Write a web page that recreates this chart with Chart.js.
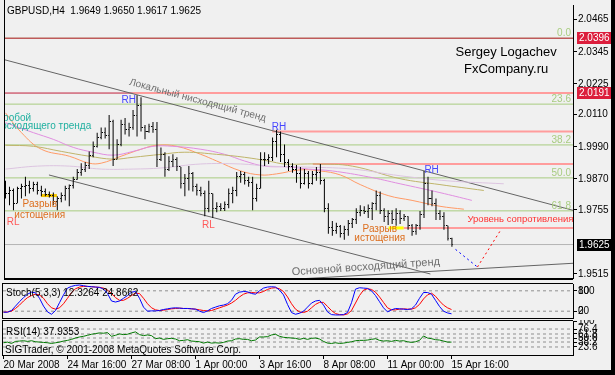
<!DOCTYPE html>
<html>
<head>
<meta charset="utf-8">
<title>GBPUSD,H4</title>
<script src="https://cdn.jsdelivr.net/npm/chart.js@4.4.1/dist/chart.umd.min.js"></script>
<style>
  html, body { margin: 0; padding: 0; background: #f0f0f0; }
  #wrap { position: relative; width: 615px; height: 375px; overflow: hidden; background: #f0f0f0; }
  #wrap canvas { position: absolute; left: 0; }
  #main { top: 0; }
  #stoch { top: 283px; }
  #rsi { top: 320px; }
  #edgeR { position: absolute; right: 0; top: 0; width: 4px; height: 375px; background: #000; }
  #edgeB { position: absolute; left: 0; bottom: 0; width: 615px; height: 5px; background: #000; }
</style>
</head>
<body>
<div id="wrap">
  <canvas id="main" width="615" height="283"></canvas>
  <canvas id="stoch" width="615" height="37"></canvas>
  <canvas id="rsi" width="615" height="55"></canvas>
  <div id="edgeR"></div>
  <div id="edgeB"></div>
</div>
<script>
// GBPUSD H4 - wartosci

const timeLabels = ['20 Mar 2008', '24 Mar 16:00', '27 Mar 08:00', '1 Apr 00:00', '3 Apr 16:00', '8 Apr 08:00', '11 Apr 00:00', '15 Apr 16:00'];
const timeTicks = [0, 16, 32, 48, 64, 80, 96, 112];
const priceTicks = [2.0465, 2.0345, 2.0225, 2.0110, 1.9990, 1.9870, 1.9755, 1.9515];

const opens = [1.9849,1.9816,1.9827,1.9779,1.9834,1.9841,1.9845,1.9834,1.9849,1.9827,
  1.9823,1.9812,1.9808,1.9786,1.9797,1.9808,1.9834,1.9845,1.9867,1.9893,
  1.9907,1.9922,1.9959,1.9992,2.0025,2.0043,2.0032,2.0083,1.9944,1.9999,
  2.0072,2.0054,2.0062,2.0109,2.0146,2.0062,2.0047,2.0065,2.0054,1.9944,
  1.9962,1.9907,1.9937,1.9944,1.9915,1.9852,1.9871,1.9889,1.9841,1.9827,
  1.9816,1.9761,1.9816,1.9761,1.9768,1.9761,1.9775,1.9816,1.9827,1.9878,
  1.9885,1.9863,1.9856,1.9797,1.9834,1.9944,1.9944,1.9951,2.0010,2.0036,
  1.9962,1.9933,1.9918,1.9907,1.9889,1.9852,1.9889,1.9852,1.9885,1.9893,
  1.9863,1.9761,1.9687,1.9676,1.9691,1.9665,1.9680,1.9702,1.9717,1.9746,
  1.9753,1.9750,1.9761,1.9779,1.9808,1.9753,1.9731,1.9742,1.9717,1.9742,
  1.9724,1.9728,1.9695,1.9673,1.9695,1.9739,1.9852,1.9797,1.9779,1.9742,
  1.9731,1.9695,1.9649];
const highs = [1.9863,1.9841,1.9834,1.9841,1.9852,1.9878,1.9863,1.9860,1.9860,1.9845,
  1.9834,1.9823,1.9819,1.9805,1.9819,1.9845,1.9849,1.9878,1.9907,1.9929,
  1.9933,1.9973,2.0010,2.0043,2.0062,2.0062,2.0109,2.0091,2.0018,2.0091,
  2.0098,2.0080,2.0128,2.0183,2.0175,2.0072,2.0076,2.0083,2.0083,1.9988,
  1.9970,1.9955,1.9962,1.9951,1.9915,1.9889,1.9918,1.9896,1.9852,1.9841,
  1.9827,1.9863,1.9816,1.9783,1.9779,1.9786,1.9834,1.9841,1.9896,1.9900,
  1.9896,1.9878,1.9878,1.9852,1.9970,1.9970,1.9962,2.0025,2.0054,2.0047,
  1.9999,1.9944,1.9929,1.9922,1.9915,1.9907,1.9900,1.9900,1.9915,1.9926,
  1.9871,1.9779,1.9713,1.9706,1.9698,1.9695,1.9717,1.9724,1.9761,1.9772,
  1.9768,1.9775,1.9783,1.9827,1.9823,1.9761,1.9753,1.9753,1.9761,1.9753,
  1.9739,1.9731,1.9702,1.9702,1.9750,1.9900,1.9878,1.9827,1.9797,1.9753,
  1.9746,1.9695,1.9650];
const lows = [1.9797,1.9772,1.9753,1.9779,1.9797,1.9805,1.9816,1.9823,1.9812,1.9805,
  1.9805,1.9801,1.9772,1.9753,1.9783,1.9790,1.9768,1.9834,1.9867,1.9882,
  1.9896,1.9907,1.9951,1.9988,2.0018,2.0021,1.9981,1.9918,1.9944,1.9992,
  2.0036,2.0029,2.0054,2.0029,2.0047,2.0018,2.0043,2.0043,1.9915,1.9937,
  1.9878,1.9900,1.9915,1.9900,1.9834,1.9805,1.9827,1.9823,1.9808,1.9805,
  1.9731,1.9746,1.9724,1.9746,1.9750,1.9750,1.9761,1.9779,1.9805,1.9856,
  1.9849,1.9841,1.9753,1.9786,1.9834,1.9918,1.9926,1.9937,1.9951,1.9933,
  1.9915,1.9900,1.9893,1.9856,1.9834,1.9849,1.9834,1.9849,1.9863,1.9849,
  1.9746,1.9665,1.9658,1.9665,1.9651,1.9643,1.9658,1.9687,1.9702,1.9731,
  1.9739,1.9724,1.9717,1.9753,1.9739,1.9709,1.9698,1.9702,1.9695,1.9702,
  1.9713,1.9680,1.9658,1.9662,1.9680,1.9724,1.9772,1.9768,1.9717,1.9717,
  1.9680,1.9640,1.9617];
const closes = [1.9816,1.9827,1.9779,1.9834,1.9841,1.9845,1.9834,1.9849,1.9827,1.9823,
  1.9812,1.9808,1.9786,1.9797,1.9808,1.9834,1.9845,1.9867,1.9893,1.9907,
  1.9922,1.9959,1.9992,2.0025,2.0043,2.0032,2.0083,1.9944,1.9999,2.0072,
  2.0054,2.0062,2.0109,2.0146,2.0062,2.0047,2.0065,2.0054,1.9944,1.9962,
  1.9907,1.9937,1.9944,1.9915,1.9852,1.9871,1.9889,1.9841,1.9827,1.9816,
  1.9761,1.9816,1.9761,1.9768,1.9761,1.9775,1.9816,1.9827,1.9878,1.9885,
  1.9863,1.9856,1.9797,1.9834,1.9944,1.9944,1.9951,2.0010,2.0036,1.9962,
  1.9933,1.9918,1.9907,1.9889,1.9852,1.9889,1.9852,1.9885,1.9893,1.9863,
  1.9761,1.9687,1.9676,1.9691,1.9665,1.9680,1.9702,1.9717,1.9746,1.9753,
  1.9750,1.9761,1.9779,1.9808,1.9753,1.9731,1.9742,1.9717,1.9742,1.9724,
  1.9728,1.9695,1.9673,1.9695,1.9739,1.9852,1.9797,1.9779,1.9742,1.9731,
  1.9695,1.9647,1.9625];

// srednie kroczace (punkty odczytane co kilka swiec)
const maFastIdx = [0,4,9,16,21,24,29,34,38,43,49,53,59,64,68,74,79,84,89,96,102,109,115];
const maFast = [2.0117,2.0043,1.9981,1.9955,1.9929,1.9929,1.9955,1.9981,1.9996,1.9992,1.9962,1.9937,1.9900,1.9885,1.9889,1.9904,1.9900,1.9885,1.9849,1.9808,1.9790,1.9768,1.9757];
const maMidIdx = [0,7,12,17,22,27,32,37,42,49,55,60,65,71,76,82,91,99,109,117];
const maMid = [2.0080,2.0043,2.0018,1.9988,1.9970,1.9959,1.9973,1.9992,1.9992,1.9981,1.9962,1.9937,1.9918,1.9915,1.9907,1.9900,1.9878,1.9852,1.9819,1.9790];
const maSlowIdx = [0,7,14,21,27,32,39,45,53,60,66,70,78,87,99,109,120];
const maSlow = [1.9996,1.9992,1.9973,1.9955,1.9944,1.9951,1.9962,1.9970,1.9962,1.9951,1.9937,1.9926,1.9926,1.9918,1.9871,1.9849,1.9827];
const maLongIdx = [0,8,16,24,32,39,49,59,66,74,87,99,111,125];
const maLong = [1.9907,1.9918,1.9918,1.9907,1.9907,1.9911,1.9926,1.9926,1.9918,1.9915,1.9907,1.9882,1.9863,1.9852];

const stochK = [17,17,22,35,48,60,70,76,74,58,
  35,18,11,22,45,68,88,93,96,97,
  95,93,92,91,90,85,72,50,47,50,
  58,66,76,78,58,32,20,21,21,22,
  25,27,29,30,29,28,28,27,26,20,
  16,21,28,32,36,38,42,52,70,76,
  78,77,72,70,80,88,91,92,91,82,
  68,40,16,11,14,20,32,44,50,52,
  38,18,10,9,9,10,16,45,85,89,
  88,87,80,66,48,30,18,24,28,27,
  26,25,27,38,58,75,75,70,52,34,
  20,15,12.3264];
const stochD = [17,18,20,28,38,50,60,66,70,68,
  58,42,30,26,30,42,58,75,86,91,
  93,93,92,91,90,88,82,72,60,52,
  52,58,66,73,72,58,42,30,24,22,
  23,25,27,28,29,28,28,27,26,24,
  22,21,22,26,30,34,38,44,52,62,
  70,74,75,74,74,78,84,88,89,86,
  78,62,42,26,18,16,20,30,40,46,
  46,34,22,13,10,9,12,22,44,66,
  82,86,84,76,62,46,30,24,24,26,
  27,26,26,30,40,56,68,73,64,50,
  38,30,24.8662];
const rsi = [36,38,34,40,41,42,40,42,39,38,
  37,36,34,36,38,41,43,46,50,53,
  55,58,61,63,65,64,66,55,58,62,
  60,61,65,68,60,57,59,57,48,50,
  46,48,49,47,42,43,45,41,40,39,
  35,38,35,36,35,37,41,42,47,48,
  46,46,42,44,53,53,54,59,61,55,
  52,51,50,49,46,49,46,49,50,47,
  40,35,34,36,34,35,37,39,42,43,
  43,44,46,48,43,41,42,40,43,41,
  42,39,37,39,43,56,50,48,45,44,
  41,38,37.9353];

// poziomy
const fiboHigh = 2.0396, fiboLow = 1.9352;
const fiboLevels = [0, 23.6, 38.2, 50, 61.8];
const redLevels = [2.0396, 2.0191];
const resistPrices = [2.0191, 2.0047, 1.9926, 1.9687];
const resistFrom = [31.9, 66.9, 77.1, 99.9];
const gapFrom = [8.9, 96.1], gapTo = [12.9, 99.9], gapPrice = [1.9808, 1.9687];
const trendLocal = { i: [-0.125, 142.375], p: [2.0315, 1.9753] };
const trendChannel = { i: [10.9, 106.6], p: [1.9885, 1.9515] };
const trendMain = { i: [74.1, 142.375], p: [1.9497, 1.9555] };
const forecastDown = { i: [112.9, 118.4], p: [1.9607, 1.9541] };
const forecastUp = { i: [118.4, 124.1], p: [1.9541, 1.9676] };
const stochLevels = [20, 80];
const rsiLevels = [23.6, 38.2, 50, 61.8, 76.4];

const X_MIN = -0.125, X_MAX = 142.375;
const last = closes.length - 1;

Chart.defaults.font.family = "'Liberation Sans', Arial, sans-serif";
Chart.defaults.font.size = 10;
Chart.defaults.color = '#000';

function pts(xs, ys) { return xs.map((x, k) => ({ x: x, y: ys[k] })); }
function seg(x0, x1, p) { return [{ x: x0, y: p }, { x: x1, y: p }]; }
function line(data, color, extra) {
  return Object.assign({ type: 'line', data: data, borderColor: color, borderWidth: 1,
    pointRadius: 0, tension: 0, fill: false, order: 9 }, extra || {});
}

// kreski open / close
function tickImage(left) {
  const c = document.createElement('canvas');
  c.width = 3; c.height = 1;
  const g = c.getContext('2d');
  g.fillStyle = '#000';
  g.fillRect(left ? 0 : 2, 0, 1, 1);
  return c;
}

function xAxis(show) {
  const s = { type: 'linear', min: X_MIN, max: X_MAX, offset: false, display: show };
  if (show) {
    s.afterFit = sc => { sc.height = 20; sc.paddingLeft = 0; sc.paddingRight = 0; };
    s.afterBuildTicks = sc => { sc.ticks = timeTicks.map(v => ({ value: v })); };
    s.ticks = { align: 'start', autoSkip: false, maxRotation: 0, padding: 0,
      callback: v => timeLabels[timeTicks.indexOf(v)] };
    s.grid = { drawOnChartArea: false, tickLength: 4, tickColor: '#000' };
    s.border = { color: '#000' };
  }
  return s;
}

function yAxis(min, max, ticks, fmt) {
  return {
    type: 'linear', position: 'right', min: min, max: max,
    afterFit(sc) { sc.width = 42; sc.paddingTop = 0; sc.paddingBottom = 0; },
    afterBuildTicks(sc) { sc.ticks = ticks.map(v => ({ value: v })); },
    ticks: { callback: fmt, padding: 1, autoSkip: false },
    grid: { drawOnChartArea: false, tickLength: 4, tickColor: '#000' },
    border: { color: '#000' }
  };
}

const baseOptions = {
  responsive: false,
  maintainAspectRatio: false,
  animation: false,
  events: [],
  plugins: { legend: { display: false }, tooltip: { enabled: false } }
};

// ---------- glowny wykres ----------
const notes = [
  { text: 'RH', i: 30.9, p: 2.0164, color: '#4646ff' },
  { text: 'RH', i: 68.6, p: 2.0062, color: '#4646ff' },
  { text: 'RH', i: 106.9, p: 1.9904, color: '#4646ff' },
  { text: 'RL', i: 1.9, p: 1.9709, color: '#ff5a5a' },
  { text: 'RL', i: 50.9, p: 1.9698, color: '#ff5a5a' },
  { text: 'Разрыв', i: 8.6, p: 1.9775, color: '#dc6e1e' },
  { text: 'истощения', i: 8.6, p: 1.9735, color: '#dc6e1e' },
  { text: 'Разрыв', i: 93.9, p: 1.9684, color: '#dc6e1e' },
  { text: 'истощения', i: 93.9, p: 1.9647, color: '#dc6e1e' },
  { text: 'Уровень сопротивления', i: 115.9, p: 1.9720, color: '#ff3030', align: 'left', size: 9.5 },
  { text: 'Пробой', i: -2.4, p: 2.0096, color: '#20b0a0', align: 'left' },
  { text: 'восходящего тренда', i: -2.4, p: 2.0067, color: '#20b0a0', align: 'left' },
  { text: 'Локальный нисходящий тренд', i: 48.2, p: 2.0164, color: '#6e6e6e', angle: 15 },
  { text: 'Основной восходящий тренд', i: 90.4, p: 1.9541, color: '#6e6e6e', angle: -4, size: 11 },
  { text: 'Sergey Logachev', i: 125.6, p: 2.0344, color: '#000', size: 13 },
  { text: 'FxCompany.ru', i: 125.6, p: 2.0278, color: '#000', size: 13 }
];

const mainDecor = {
  id: 'mainDecor',
  afterDatasetsDraw(chart) {
    const { ctx, chartArea: a, scales: { x, y } } = chart;
    ctx.save();
    ctx.beginPath();
    ctx.rect(a.left, a.top, a.right - a.left, a.bottom - a.top);
    ctx.clip();
    ctx.textBaseline = 'bottom';
    ctx.textAlign = 'right';
    ctx.font = '10px ' + Chart.defaults.font.family;
    ctx.fillStyle = '#a8cc80';
    fiboLevels.forEach(l => {
      const py = y.getPixelForValue(fiboHigh - (fiboHigh - fiboLow) * l / 100);
      ctx.fillText(l.toFixed(1), a.right - 2, py);
    });
    ctx.textBaseline = 'middle';
    notes.forEach(n => {
      ctx.save();
      ctx.translate(x.getPixelForValue(n.i), y.getPixelForValue(n.p));
      if (n.angle) ctx.rotate(n.angle * Math.PI / 180);
      ctx.font = (n.size || 10) + 'px ' + Chart.defaults.font.family;
      ctx.textAlign = n.align || 'center';
      ctx.fillStyle = n.color;
      ctx.fillText(n.text, 0, 0);
      ctx.restore();
    });
    ctx.restore();

    ctx.save();
    ctx.font = '10px ' + Chart.defaults.font.family;
    ctx.fillStyle = '#000';
    ctx.textAlign = 'left';
    ctx.textBaseline = 'middle';
    ctx.fillText('GBPUSD,H4  ' + [opens[last], highs[last], lows[last], closes[last]].map(v => v.toFixed(4)).join(' '), 7, 11);
    ctx.fillRect(a.left - 1, 0, 1, a.bottom + 2);
    ctx.fillRect(a.left - 1, a.bottom, a.right - a.left + 1, 2);
    ctx.restore();
  },
  afterDraw(chart) {
    const { ctx, chartArea: a, scales: { y } } = chart;
    const boxes = [
      { p: redLevels[0], bg: '#dc1e3c' },
      { p: redLevels[1], bg: '#dc1e3c' },
      { p: closes[last], bg: '#000' }
    ];
    ctx.save();
    ctx.font = '10px ' + Chart.defaults.font.family;
    ctx.textAlign = 'left';
    ctx.textBaseline = 'middle';
    boxes.forEach(b => {
      const py = Math.round(y.getPixelForValue(b.p));
      ctx.fillStyle = b.bg;
      ctx.fillRect(a.right + 4, py - 6, 34, 12);
      ctx.fillStyle = '#fff';
      ctx.fillText(b.p.toFixed(4), a.right + 6, py + 0.5);
    });
    ctx.restore();
  }
};

const mainSets = [];
fiboLevels.forEach(l => {
  mainSets.push(line(seg(X_MIN, X_MAX, fiboHigh - (fiboHigh - fiboLow) * l / 100), '#a8cc80', { order: 12 }));
});
redLevels.forEach(p => mainSets.push(line(seg(X_MIN, X_MAX, p), '#c0203c', { order: 11 })));
mainSets.push(line(seg(X_MIN, X_MAX, closes[last]), '#b4b4b4', { order: 11 }));
resistPrices.forEach((p, k) => {
  mainSets.push(line(seg(resistFrom[k], X_MAX, p), '#ff9c9c', { borderWidth: 2, order: 10 }));
});
gapPrice.forEach((p, k) => {
  mainSets.push(line(seg(gapFrom[k], gapTo[k], p), k === 0 ? '#f8c800' : '#ffff00', { borderWidth: 3, order: 10 }));
});
[trendLocal, trendChannel, trendMain].forEach(t => {
  mainSets.push(line(pts(t.i, t.p), '#646464', { order: 9 }));
});
mainSets.push(line(pts(maLongIdx, maLong), '#dcc4e0', { tension: 0.4, order: 8 }));
mainSets.push(line(pts(maSlowIdx, maSlow), '#bfb46a', { tension: 0.4, order: 8 }));
mainSets.push(line(pts(maMidIdx, maMid), '#e08ee0', { tension: 0.4, order: 8 }));
mainSets.push(line(pts(maFastIdx, maFast), '#ff9a66', { tension: 0.4, order: 8 }));
mainSets.push(line(pts(forecastDown.i, forecastDown.p), '#0000ff', { borderDash: [2, 3], order: 6 }));
mainSets.push(line(pts(forecastUp.i, forecastUp.p), '#ff0000', { borderDash: [2, 3], order: 6 }));
mainSets.push({
  type: 'bar',
  data: highs.map((h, i) => ({ x: i, y: [lows[i], h] })),
  backgroundColor: '#000',
  borderWidth: 0,
  barThickness: 1,
  inflateAmount: 0,
  grouped: false,
  order: 2
});
mainSets.push(line(opens.map((v, i) => ({ x: i, y: v })), '#000', { showLine: false, pointRadius: 1, pointStyle: tickImage(true), order: 1 }));
mainSets.push(line(closes.map((v, i) => ({ x: i, y: v })), '#000', { showLine: false, pointRadius: 1, pointStyle: tickImage(false), order: 1 }));

new Chart(document.getElementById('main'), {
  type: 'bar',
  data: { datasets: mainSets },
  options: Object.assign({}, baseOptions, {
    layout: { padding: { left: 3, top: 3, right: 0, bottom: 2 } },
    scales: {
      x: xAxis(false),
      y: yAxis(1.9500, 2.0520, priceTicks, v => v.toFixed(4))
    }
  }),
  plugins: [mainDecor]
});

// ---------- panele ----------
function panelFrame(legend, extraLabels) {
  return {
    id: 'panelFrame',
    afterDraw(chart) {
      const { ctx, chartArea: a, scales: { y } } = chart;
      ctx.save();
      ctx.fillStyle = '#000';
      ctx.fillRect(a.left - 1, a.top - 1, a.right - a.left + 1, 1);
      ctx.fillRect(a.left - 1, a.bottom, a.right - a.left + 1, 1);
      ctx.fillRect(a.left - 1, a.top - 1, 1, a.bottom - a.top + 2);
      ctx.font = '10px ' + Chart.defaults.font.family;
      ctx.textAlign = 'left';
      ctx.textBaseline = 'middle';
      legend.forEach(t => ctx.fillText(t.text, t.x, t.y));
      (extraLabels || []).forEach(t => ctx.fillText(t.text, a.right + 5, y.getPixelForValue(t.v)));
      ctx.restore();
    }
  };
}

const stochSets = stochLevels.map(v => line(seg(X_MIN, X_MAX, v), '#909090', { borderDash: [3, 3], order: 5 }));
stochSets.push(line(stochD.map((v, i) => ({ x: i, y: v })), '#ff0000', { order: 2 }));
stochSets.push(line(stochK.map((v, i) => ({ x: i, y: v })), '#0000ff', { order: 1 }));

new Chart(document.getElementById('stoch'), {
  type: 'line',
  data: { datasets: stochSets },
  options: Object.assign({}, baseOptions, {
    layout: { padding: { left: 3, top: 1, right: 0, bottom: 2 } },
    scales: {
      x: xAxis(false),
      y: yAxis(0, 100, stochLevels, v => String(v))
    }
  }),
  plugins: [panelFrame(
    [{ text: 'Stoch(5,3,3) ' + stochK[last] + ' ' + stochD[last], x: 6, y: 10.5 }],
    [{ text: '100', v: 80 }, { text: '0', v: 20 }]
  )]
});

const rsiSets = rsiLevels.map(v => line(seg(X_MIN, X_MAX, v), '#909090', { borderDash: [3, 3], order: 5 }));
rsiSets.push(line(rsi.map((v, i) => ({ x: i, y: v })), '#007800', { order: 1 }));

new Chart(document.getElementById('rsi'), {
  type: 'line',
  data: { datasets: rsiSets },
  options: Object.assign({}, baseOptions, {
    layout: { padding: { left: 3, top: 1, right: 0, bottom: 0 } },
    scales: {
      x: xAxis(true),
      y: yAxis(0, 100, rsiLevels.concat([100]), v => (v === 100 ? '100' : v.toFixed(1)))
    }
  }),
  plugins: [panelFrame([
    { text: 'RSI(14) ' + rsi[last], x: 6, y: 12.5 },
    { text: 'SIGTrader, © 2001-2008 MetaQuotes Software Corp.', x: 5, y: 30 }
  ])]
});
</script>
</body>
</html>
